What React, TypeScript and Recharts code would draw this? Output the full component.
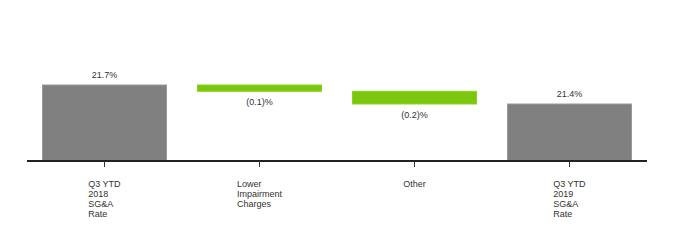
import React from "react";
import { BarChart, Bar, XAxis, YAxis } from "recharts";

const categories = [
  ["Q3 YTD", "2018", "SG&A", "Rate"],
  ["Lower", "Impairment", "Charges"],
  ["Other"],
  ["Q3 YTD", "2019", "SG&A", "Rate"],
];
const barValues = [21.7, -0.1, -0.2, 21.4];
const barKinds = ["total", "change", "change", "total"];
const valueLabels = ["21.7%", "(0.1)%", "(0.2)%", "21.4%"];
const yDomain: [number, number] = [20.5, 22.3];

const totalColor = "#808080";
const changeColor = "#7cc60e";
const textColor = "#333333";
const fontFamily = "Arial, 'Liberation Sans', sans-serif";

// running totals -> [low, high] ranges for the floating bars
let running = 0;
const chartData = categories.map((lines, i) => {
  let range: [number, number];
  if (barKinds[i] === "total") {
    running = barValues[i];
    range = [yDomain[0], barValues[i]];
  } else {
    const next = running + barValues[i];
    range = [Math.min(running, next), Math.max(running, next)];
    running = next;
  }
  return { name: lines.join("\n"), range, kind: barKinds[i], label: valueLabels[i] };
});

let ctx: CanvasRenderingContext2D | null = null;
function textWidth(s: string) {
  if (!ctx) ctx = document.createElement("canvas").getContext("2d");
  if (!ctx) return s.length * 5;
  ctx.font = `9px ${fontFamily}`;
  return ctx.measureText(s).width;
}

const CategoryTick = (props: any) => {
  const { x, y, payload } = props;
  const lines: string[] = String(payload.value).split("\n");
  const w = Math.max(...lines.map(textWidth));
  return (
    <g>
      {lines.map((l, i) => (
        <text
          key={i}
          x={x - w / 2}
          y={y + 18 + i * 10}
          fontSize={9}
          fontFamily={fontFamily}
          fill={textColor}
          textAnchor="start"
        >
          {l}
        </text>
      ))}
    </g>
  );
};

const WaterfallBar = (props: any) => {
  const { x, y, width, height, payload } = props;
  const top = Math.min(y, y + height);
  const h = Math.abs(height);
  const isTotal = payload.kind === "total";
  return (
    <g>
      <rect
        x={x}
        y={top}
        width={width}
        height={h}
        fill={isTotal ? totalColor : changeColor}
        stroke={isTotal ? "#999999" : "#8bd31f"}
        strokeWidth={1}
      />
      <text
        x={x + width / 2}
        y={isTotal ? top - 7 : top + h + 14}
        textAnchor="middle"
        fontSize={9}
        fontFamily={fontFamily}
        fill={textColor}
      >
        {payload.label}
      </text>
    </g>
  );
};

export default function App() {
  return (
    <div style={{ margin: -8, width: 680, height: 240, background: "#fff" }}>
      <BarChart
        width={680}
        height={240}
        data={chartData}
        margin={{ top: 47, right: 33, bottom: 9, left: 27 }}
        barCategoryGap="10%"
      >
        <XAxis
          dataKey="name"
          height={70}
          interval={0}
          axisLine={{ stroke: "#222222", strokeWidth: 2 }}
          tickLine={{ stroke: "#333333" }}
          tickSize={6}
          tick={<CategoryTick />}
        />
        <YAxis hide domain={yDomain} allowDataOverflow />
        <Bar dataKey="range" isAnimationActive={false} shape={<WaterfallBar />} />
      </BarChart>
    </div>
  );
}
